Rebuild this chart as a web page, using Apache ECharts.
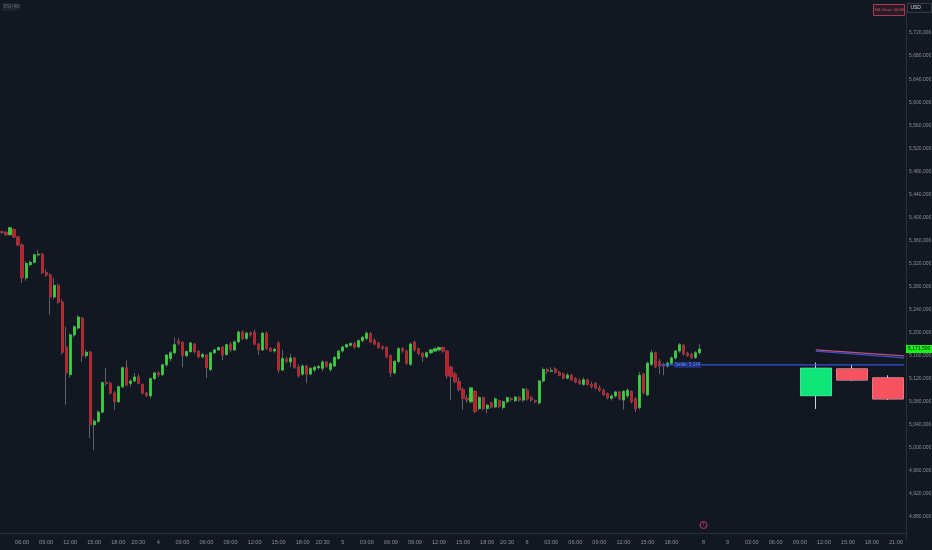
<!DOCTYPE html>
<html><head><meta charset="utf-8">
<script src="https://cdn.jsdelivr.net/npm/echarts@6/dist/echarts.min.js"></script>
<style>html,body{margin:0;padding:0;background:#131722;}#c{width:932px;height:550px;}</style>
</head><body><div id="c"></div>
<script>
// ---- price data (values in thousands) ----
const opens = [5375,5374,5370,5379,5366,5352,5295,5318,5322,5335,5336,5304,5300,5262,5282,5253,5175,5127,5196,5208,
5225,5160,5166,5040,5046,5062,5113,5112,5095,5080,5106,5139,5112,5116,5123,5110,5095,5090,5120,5130,
5127,5144,5155,5165,5185,5183,5160,5167,5180,5167,5158,5161,5136,5165,5170,5175,5162,5180,5170,5184,
5201,5190,5199,5200,5180,5170,5199,5172,5168,5182,5135,5154,5149,5156,5140,5128,5142,5128,5135,5139,
5138,5149,5136,5142,5155,5168,5175,5178,5181,5175,5186,5190,5198,5186,5182,5175,5174,5160,5130,5150,
5172,5168,5145,5183,5172,5164,5158,5165,5168,5170,5174,5168,5140,5128,5115,5101,5086,5080,5098,5068,
5087,5068,5078,5071,5082,5070,5080,5085,5082,5087,5083,5100,5087,5082,5078,5116,5136,5133,5137,5131,
5128,5121,5126,5120,5116,5110,5118,5110,5112,5104,5100,5094,5086,5090,5097,5083,5090,5098,5085,5070,
5128,5092,5145,5165,5150,5144,5142,5147,5156,5168,5178,5164,5162,5157,5165];
const closes = [5374,5370,5382,5366,5352,5295,5320,5322,5335,5336,5304,5300,5262,5282,5253,5166,5130,5196,5210,5227,
5160,5166,5040,5046,5062,5113,5112,5095,5080,5106,5139,5109,5116,5123,5112,5095,5091,5120,5130,5127,
5144,5161,5165,5179,5182,5160,5167,5182,5167,5158,5162,5139,5165,5170,5174,5161,5179,5170,5184,5201,
5190,5199,5196,5180,5170,5199,5172,5168,5171,5135,5155,5150,5156,5140,5125,5142,5128,5138,5140,5141,
5149,5141,5146,5157,5168,5175,5179,5181,5175,5186,5192,5199,5184,5180,5174,5173,5158,5130,5150,5172,
5168,5147,5180,5170,5164,5158,5165,5170,5172,5174,5168,5125,5124,5115,5101,5086,5083,5104,5063,5087,
5068,5074,5071,5085,5072,5080,5087,5084,5088,5083,5102,5085,5083,5080,5116,5136,5133,5134,5131,5126,
5121,5126,5118,5114,5112,5118,5110,5106,5104,5100,5092,5087,5090,5097,5085,5098,5100,5080,5068,5126,
5096,5147,5165,5141,5142,5142,5147,5156,5168,5179,5163,5160,5157,5165,5171.5];
const lows = [5371,5368,5368,5364,5350,5286,5290,5315,5320,5332,5302,5297,5231,5258,5250,5162,5075,5122,5192,5205,
5149,5155,5017,4996,5043,5060,5108,5093,5066,5078,5104,5107,5106,5114,5110,5093,5088,5086,5118,5123,
5125,5140,5150,5162,5178,5140,5157,5165,5164,5156,5155,5121,5133,5163,5168,5152,5160,5166,5168,5182,
5187,5187,5193,5178,5161,5168,5170,5166,5165,5130,5133,5147,5140,5137,5122,5125,5112,5126,5132,5136,
5133,5139,5132,5140,5153,5165,5173,5176,5172,5173,5183,5187,5182,5178,5172,5170,5155,5123,5127,5147,
5165,5144,5142,5167,5161,5149,5155,5162,5166,5167,5165,5120,5083,5112,5098,5066,5078,5077,5060,5065,
5065,5060,5068,5069,5069,5066,5077,5080,5079,5080,5080,5082,5080,5077,5075,5113,5128,5131,5129,5124,
5119,5119,5116,5112,5109,5108,5108,5103,5101,5097,5090,5084,5082,5087,5082,5066,5086,5077,5062,5066,
5092,5089,5142,5138,5128,5126,5139,5144,5153,5165,5160,5158,5154,5154,5162];
const highs = [5377,5376,5384,5381,5368,5355,5324,5325,5337,5343,5338,5310,5303,5295,5285,5258,5210,5199,5213,5230,
5227,5170,5168,5050,5065,5115,5139,5115,5098,5108,5141,5152,5119,5130,5128,5112,5097,5122,5132,5133,
5146,5163,5168,5192,5190,5185,5169,5184,5182,5170,5165,5163,5167,5172,5176,5176,5181,5184,5186,5204,
5204,5202,5202,5205,5182,5201,5202,5175,5174,5185,5170,5158,5164,5158,5145,5145,5144,5140,5143,5144,
5152,5151,5149,5159,5170,5177,5181,5183,5184,5188,5194,5202,5201,5190,5184,5178,5176,5162,5152,5175,
5175,5170,5183,5186,5174,5166,5167,5172,5174,5176,5176,5170,5143,5132,5122,5105,5092,5106,5100,5090,
5089,5076,5080,5088,5084,5082,5089,5088,5090,5090,5104,5104,5090,5084,5118,5140,5139,5140,5140,5134,
5130,5130,5128,5123,5120,5122,5120,5115,5114,5108,5103,5096,5093,5099,5099,5100,5103,5100,5088,5132,
5130,5150,5170,5167,5154,5148,5150,5159,5170,5182,5180,5167,5165,5168,5180];

// higher-timeframe (H4) candles projected on the right
const htfSlots = ['9 11:00', '9 15:30', '9 20:00'];
const htfOpen  = [5090.6, 5136.9, 5121.3];
const htfClose = [5138.1, 5117.8, 5084.9];
const htfLow   = [5067.5, 5116.1, 5083.1];
const htfHigh  = [5147.9, 5143.9, 5125.9];

// average lines on the right
const slopeSlots = ['9 11:00', '9 22:00'];
const pinkAvg = [5170, 5159.5];
const blueAvg = [5168, 5156];
// horizontal level
const levelSlots = ['6 16:30', '9 22:00'];
const levelValue = 5144;
const levelLabelSlot = '6 20:00';
const eventSlot = '8 21:00';

// trading sessions (30-minute slots)
const sessions = [['3','03:30','22:30'],['4','00:00','22:30'],['5','00:00','22:30'],['6','00:00','21:30'],['8','21:00','23:30'],['9','00:00','22:00']];

const xTicks = [
 ['3 06:00','06:00'],['3 09:00','09:00'],['3 12:00','12:00'],['3 15:00','15:00'],['3 18:00','18:00'],['3 20:30','20:30'],
 ['4 00:00','4'],['4 03:00','03:00'],['4 06:00','06:00'],['4 09:00','09:00'],['4 12:00','12:00'],['4 15:00','15:00'],['4 18:00','18:00'],['4 20:30','20:30'],
 ['5 00:00','5'],['5 03:00','03:00'],['5 06:00','06:00'],['5 09:00','09:00'],['5 12:00','12:00'],['5 15:00','15:00'],['5 18:00','18:00'],['5 20:30','20:30'],
 ['6 00:00','6'],['6 03:00','03:00'],['6 06:00','06:00'],['6 09:00','09:00'],['6 12:00','12:00'],['6 15:00','15:00'],['6 18:00','18:00'],
 ['8 21:00','8'],['9 00:00','9'],['9 03:00','03:00'],['9 06:00','06:00'],['9 09:00','09:00'],['9 12:00','12:00'],['9 15:00','15:00'],['9 18:00','18:00'],['9 21:00','21:00']
];

// ---- build ----
function toMin(s){const p=s.split(':');return (+p[0])*60+(+p[1]);}
function fmt(m){const h=Math.floor(m/60),mm=m%60;return (h<10?'0':'')+h+':'+(mm<10?'0':'')+mm;}
const categories = [];
sessions.forEach(([d,a,b])=>{for(let m=toMin(a);m<=toMin(b);m+=30)categories.push(d+' '+fmt(m));});
const tickMap = new Map(xTicks);

const wickData = opens.map((o,i)=>[o,closes[i],lows[i],highs[i]]);
const bodyData = opens.map((o,i)=>[o,closes[i],Math.min(o,closes[i]),Math.max(o,closes[i])]);
const htfMap = {}; htfSlots.forEach((s,i)=>htfMap[s]=i);
const htfWick = categories.map(c=> c in htfMap ? [htfOpen[htfMap[c]],htfClose[htfMap[c]],htfLow[htfMap[c]],htfHigh[htfMap[c]]] : '-');
const htfBody = categories.map(c=> c in htfMap ? [htfOpen[htfMap[c]],htfClose[htfMap[c]],Math.min(htfOpen[htfMap[c]],htfClose[htfMap[c]]),Math.max(htfOpen[htfMap[c]],htfClose[htfMap[c]])] : '-');

const FONT = "'Liberation Sans','DejaVu Sans',sans-serif";
const AX = '#8b8f99';
const UP = '#35d43a', DN = '#b8232b';
const fmtPrice = v => Math.round(v*1000).toLocaleString('en-US');

const chart = echarts.init(document.getElementById('c'), null, {renderer:'canvas'});
chart.setOption({
  backgroundColor: '#131722',
  animation: false,
  grid: {left: 0, right: 26, top: 10, bottom: 10, outerBoundsMode: 'none', containLabel: false},
  xAxis: {
    type: 'category', data: categories, boundaryGap: true, offset: -7,
    axisLine: {lineStyle: {color: '#2a2e39', width: 1}},
    axisTick: {show: false},
    splitLine: {show: false},
    axisLabel: {
      interval: (idx, val) => tickMap.has(val),
      formatter: v => tickMap.get(v) || '',
      color: AX, fontSize: 5.6, fontFamily: FONT, margin: 6
    }
  },
  yAxis: {
    type: 'value', position: 'right', min: 4840, max: 5760, interval: 40, scale: true,
    axisLine: {show: true, lineStyle: {color: '#2a2e39'}},
    axisTick: {show: false},
    splitLine: {show: false},
    axisLabel: {showMinLabel: false, showMaxLabel: false, formatter: fmtPrice, color: AX, fontSize: 5, fontFamily: FONT, margin: 3}
  },
  series: [
    {type: 'candlestick', data: wickData, barWidth: 2.6, z: 2,
     itemStyle: {color: '#5d616c', color0: '#5d616c', borderColor: '#5d616c', borderColor0: '#5d616c', borderWidth: 1}},
    {type: 'candlestick', data: bodyData, barWidth: 2.6, z: 3,
     itemStyle: {color: UP, color0: DN, borderColor: UP, borderColor0: DN, borderWidth: 0.6},
     markLine: {silent: true, symbol: 'none', lineStyle: {color: 'rgba(0,0,0,0)', width: 0},
       data: [{yAxis: closes[closes.length-1]}],
       label: {show: true, position: 'end', distance: 0, formatter: p => fmtPrice(p.value), backgroundColor: '#14f514', color: '#000', fontSize: 5, fontFamily: FONT, padding: [2,2,1,2], opacity: 1}}},
    {type: 'candlestick', data: htfWick, barWidth: 31, z: 2,
     itemStyle: {color: '#d1d4dc', color0: '#d1d4dc', borderColor: '#d1d4dc', borderColor0: '#d1d4dc', borderWidth: 1}},
    {type: 'candlestick', data: htfBody, barWidth: 31, z: 3,
     itemStyle: {color: '#0ee67a', color0: '#f7525f', borderColor: '#0ee67a', borderColor0: '#f7525f', borderWidth: 0.5}},
    {type: 'line', data: levelSlots.map(s=>[s, levelValue]), symbol: 'none', z: 4,
     lineStyle: {color: '#2f52e0', width: 1.2},
     markPoint: {symbol: 'rect', symbolSize: [27, 6], itemStyle: {color: '#1d2f7a'},
       data: [{coord: [levelLabelSlot, levelValue], value: 'Settle: 5,144'}],
       label: {show: true, color: '#6f8cf0', fontSize: 4.5, fontFamily: FONT, formatter: p => p.value}}},
    {type: 'line', data: slopeSlots.map((s,i)=>[s, blueAvg[i]]), symbol: 'none', z: 4,
     lineStyle: {color: '#3a4fc8', width: 1.2}},
    {type: 'line', data: slopeSlots.map((s,i)=>[s, pinkAvg[i]]), symbol: 'none', z: 5,
     lineStyle: {color: '#b6547e', width: 1.2}}
  ]
});

const ex = chart.convertToPixel({xAxisIndex: 0}, eventSlot);
chart.setOption({
  graphic: [
    {type: 'group', left: 2, top: 3, children: [
      {type: 'rect', shape: {x: 0, y: 0, width: 16, height: 8}, style: {fill: '#1e222d'}},
      {type: 'text', x: 1.5, y: 1.5, style: {text: 'RSI (48)', fill: '#6b7080', font: "4.5px " + FONT}}
    ]},
    {type: 'group', left: 873, top: 4, children: [
      {type: 'rect', shape: {x: 0, y: 0, width: 31, height: 11}, style: {fill: '#2a1c26', stroke: '#a83a58', lineWidth: 1}},
      {type: 'text', x: 1.5, y: 3.5, style: {text: 'H4 Close: 00:08', fill: '#e0506e', font: "4px " + FONT}}
    ]},
    {type: 'group', left: 907, top: 3, children: [
      {type: 'rect', shape: {x: 0, y: 0, width: 24, height: 9}, style: {fill: '#131722', stroke: '#434651', lineWidth: 0.8}},
      {type: 'text', x: 3, y: 2, style: {text: 'USD', fill: '#d1d4dc', font: "5px " + FONT}}
    ]},
    {type: 'circle', shape: {cx: ex, cy: 525, r: 3.5}, style: {fill: '#1b1a2a', stroke: '#b03a6a', lineWidth: 1}},
    {type: 'text', x: ex - 1, y: 522.5, style: {text: '!', fill: '#c85080', font: "5px " + FONT}}
  ]
});
</script></body></html>
